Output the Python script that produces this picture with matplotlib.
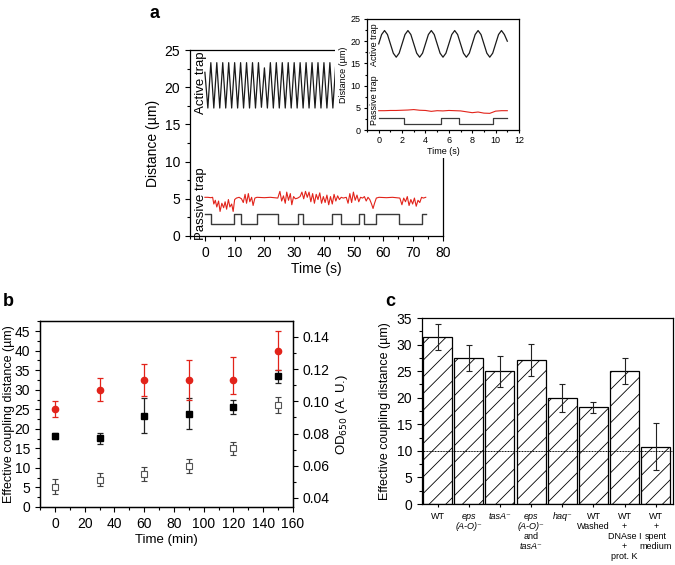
"""Trap traces, coupling distance vs time, and coupling distance per strain."""
import matplotlib
matplotlib.use('Agg')
import matplotlib.pyplot as plt
from matplotlib.ticker import MultipleLocator, FormatStrFormatter

plt.rcParams['font.family'] = ['Liberation Sans', 'DejaVu Sans']
plt.rcParams['font.size'] = 9
plt.rcParams['hatch.linewidth'] = 0.6
plt.rcParams['axes.linewidth'] = 0.9

# ---- panel a, main: 75 s run ----
active_t = [0, 1, 2, 3, 4, 5, 6, 7, 8, 9, 10, 11, 12, 13, 14, 15, 16, 17, 18, 19,
            20, 21, 22, 23, 24, 25, 26, 27, 28, 29, 30, 31, 32, 33, 34, 35, 36, 37,
            38, 39, 40, 41, 42, 43, 44, 45, 46, 47, 48, 49, 50, 51, 52, 53, 54, 55,
            56, 57, 58, 59, 60, 61, 62, 63, 64, 65, 66, 67, 68, 69, 70, 71, 72, 73,
            74, 75]
active_v = [22.0, 17.2, 23.3, 17.2, 23.3, 17.2, 23.3, 17.2, 23.3, 17.2, 23.3, 17.2,
            23.3, 17.2, 23.3, 17.2, 23.3, 17.2, 23.3, 17.3, 22.6, 17.2, 23.3, 17.2,
            23.3, 17.2, 23.3, 17.2, 23.3, 17.2, 23.3, 17.2, 23.3, 17.2, 23.3, 17.2,
            23.3, 17.2, 23.3, 17.2, 23.3, 17.2, 23.3, 17.2, 23.3, 17.2, 23.3, 17.2,
            23.3, 17.2, 23.3, 17.2, 23.3, 17.2, 23.3, 17.2, 23.3, 17.2, 23.3, 17.2,
            23.3, 17.2, 23.3, 17.2, 23.3, 17.2, 23.3, 17.2, 23.3, 17.2, 23.3, 17.2,
            23.3, 17.2, 23.3, 17.2]

red_t = [0, 1, 2, 2.6, 3.0, 3.5, 4.0, 4.6, 5.1, 5.7, 6.3, 6.8, 7.3, 7.9, 8.4, 9.0,
         9.5, 10.0, 10.6, 11.5, 12.3, 12.9, 13.5, 14.0, 14.6, 15.1, 15.7, 16.2, 16.8,
         17.5, 20, 22, 24.5, 25.2, 25.8, 26.4, 27.0, 27.5, 28.1, 28.7, 29.2, 29.8,
         30.4, 31.2, 32.0, 32.6, 33.2, 33.8, 34.4, 35.0, 35.6, 36.2, 36.8, 37.4, 38.0,
         38.6, 39.2, 39.8, 40.4, 41.0, 41.6, 42.2, 42.8, 43.4, 44.0, 44.6, 45.2, 45.8,
         46.5, 47.5, 48.1, 48.7, 49.3, 49.9, 50.5, 51.1, 51.7, 52.3, 53.0, 53.6, 54.2,
         54.8, 55.4, 56.0, 56.5, 57.0, 57.6, 58.5, 61, 63, 65.5, 66.2, 66.8, 67.4, 68.0,
         68.6, 69.2, 69.8, 70.4, 71.0, 71.6, 72.2, 72.8, 73.4, 74.2]
red_v = [5.2, 5.2, 5.15, 5.2, 4.3, 4.8, 3.9, 4.7, 3.3, 4.4, 3.8, 4.6, 3.6, 4.9, 3.9, 4.3,
         3.3, 4.9, 5.1, 5.2, 5.0, 4.5, 5.6, 4.4, 5.7, 4.6, 5.2, 4.1, 5.1,
         5.2, 5.15, 5.2, 5.1, 6.0, 4.7, 5.4, 4.4, 5.9, 4.8, 5.7, 4.2, 5.3,
         5.0, 5.1, 5.3, 5.9, 5.0, 6.0, 5.2, 5.9, 4.6, 5.7, 4.4, 5.6, 4.9,
         5.8, 4.4, 5.3, 4.5, 5.5, 4.2, 5.3, 4.3, 5.6, 4.7, 5.4, 4.9, 5.2,
         5.1, 5.2, 4.4, 5.7, 4.5, 5.9, 4.8, 5.5, 4.6, 5.2, 5.1, 5.3, 4.7,
         5.2, 4.9, 4.3, 3.7, 4.4, 5.1, 5.2, 5.15, 5.2, 5.1, 4.2, 5.1, 4.6, 5.3,
         4.1, 4.9, 4.3, 5.1, 4.0, 4.8, 4.5, 5.2, 5.1, 5.2]

step_t = [0, 2.1, 9.9, 12.0, 17.5, 24.5, 31.2, 32.8, 42.8, 45.8, 51.8, 53.6, 57.6,
          65.3, 73.0, 74.3]
step_v = [3.0, 1.6, 3.0, 1.6, 3.0, 1.6, 3.0, 1.6, 3.0, 1.6, 3.0, 1.6, 3.0, 1.6,
          3.0, 3.0]

# ---- panel a, inset: first 11 s ----
ins_t = [0, 0.25, 0.5, 0.75, 1, 1.25, 1.5, 1.75, 2, 2.25, 2.5, 2.75, 3, 3.25, 3.5,
         3.75, 4, 4.25, 4.5, 4.75, 5, 5.25, 5.5, 5.75, 6, 6.25, 6.5, 6.75, 7, 7.25,
         7.5, 7.75, 8, 8.25, 8.5, 8.75, 9, 9.25, 9.5, 9.75, 10, 10.25, 10.5, 10.75, 11]
ins_active = [19.4, 21.5, 22.4, 21.5, 19.4, 17.3, 16.4, 17.3, 19.4, 21.5, 22.4, 21.5,
              19.4, 17.3, 16.4, 17.3, 19.4, 21.5, 22.4, 21.5, 19.4, 17.3, 16.4, 17.3,
              19.4, 21.5, 22.4, 21.5, 19.4, 17.3, 16.4, 17.3, 19.4, 21.5, 22.4, 21.5,
              19.4, 17.3, 16.4, 17.3, 19.4, 21.5, 22.4, 21.5, 20.0]
ins_red_t = [0, 0.5, 1, 1.5, 2, 2.5, 3, 3.5, 4, 4.5, 5, 5.5, 6, 6.5, 7, 7.5, 8, 8.5,
             9, 9.5, 10, 10.5, 11]
ins_red_v = [4.35, 4.35, 4.4, 4.4, 4.45, 4.5, 4.6, 4.45, 4.4, 4.2, 4.35, 4.3, 4.4,
             4.35, 4.3, 4.1, 3.9, 4.05, 3.8, 3.75, 4.25, 4.35, 4.35]
ins_step_t = [0, 2.2, 5.3, 6.9, 9.8, 11.0]
ins_step_v = [2.7, 1.4, 2.7, 1.4, 2.7, 2.7]

# ---- panel b ----
b_time = [0, 30, 60, 90, 120, 150]
b_red = [25.0, 30.0, 32.5, 32.5, 32.5, 40.0]
b_red_lo = [2.0, 3.0, 4.0, 5.0, 3.7, 5.0]
b_red_hi = [2.0, 3.0, 4.0, 5.0, 6.0, 5.0]
b_black = [18.2, 17.6, 23.4, 23.9, 25.6, 33.4]
b_black_err = [0.8, 1.4, 4.5, 3.9, 1.8, 1.7]
b_od = [0.047, 0.0513, 0.055, 0.060, 0.0709, 0.0977]
b_od_err = [0.0048, 0.004, 0.0042, 0.0042, 0.0041, 0.0052]

# ---- panel c ----
# each tick label as (line text, italic) pairs
c_labels = [[('WT', False)],
            [('eps', True), ('(A-O)⁻', True)],
            [('tasA⁻', True)],
            [('eps', True), ('(A-O)⁻', True), ('and', False), ('tasA⁻', True)],
            [('haq⁻', True)],
            [('WT', False), ('Washed', False)],
            [('WT', False), ('+', False), ('DNAse I', False), ('+', False),
             ('prot. K', False)],
            [('WT', False), ('+', False), ('spent', False), ('medium', False)]]
c_vals = [31.4, 27.5, 25.0, 27.1, 20.0, 18.2, 25.0, 10.8]
c_err = [2.4, 2.5, 2.9, 3.1, 2.6, 1.0, 2.5, 4.35]

RED = '#e2231a'
W, H = 675, 565


def box(l, t, r, b):
    return [l / W, 1 - b / H, (r - l) / W, (b - t) / H]


def ticks(ax, size=9):
    ax.tick_params(which='both', direction='out', labelsize=size, width=0.8)
    ax.tick_params(which='major', length=3.5)
    ax.tick_params(which='minor', length=2)


fig = plt.figure(figsize=(6.75, 5.65), dpi=100)

# panel a
ax = fig.add_axes(box(190, 50, 443, 236))
ax.plot(active_t, active_v, color='#1a1a1a', lw=0.9)
ax.plot(red_t, red_v, color=RED, lw=0.8)
ax.step(step_t, step_v, where='post', color='#3a3a3a', lw=1.0)
ax.set_xlim(-5, 80)
ax.set_ylim(0, 25)
ax.xaxis.set_major_locator(MultipleLocator(10))
ax.xaxis.set_minor_locator(MultipleLocator(5))
ax.yaxis.set_major_locator(MultipleLocator(5))
ax.yaxis.set_minor_locator(MultipleLocator(2.5))
ticks(ax, 10)
ax.set_xlabel('Time (s)', fontsize=10, labelpad=2)
ax.set_ylabel('Distance (µm)', fontsize=10, labelpad=3)
ax.text(-1.4, 20.6, 'Active trap', rotation=90, ha='center', va='center', fontsize=9.5)
ax.text(-1.4, 4.3, 'Passive trap', rotation=90, ha='center', va='center', fontsize=9.5)

cover = fig.add_axes(box(335, 0, 535, 158))
cover.set_xticks([])
cover.set_yticks([])
for s in cover.spines.values():
    s.set_visible(False)

ins = fig.add_axes(box(367, 19, 519, 130))
ins.plot(ins_t, ins_active, color='#1a1a1a', lw=0.9)
ins.plot(ins_red_t, ins_red_v, color=RED, lw=0.8)
ins.step(ins_step_t, ins_step_v, where='post', color='#3a3a3a', lw=0.9)
ins.set_xlim(-1, 12)
ins.set_ylim(0, 25)
ins.xaxis.set_major_locator(MultipleLocator(2))
ins.xaxis.set_minor_locator(MultipleLocator(1))
ins.yaxis.set_major_locator(MultipleLocator(5))
ins.yaxis.set_minor_locator(MultipleLocator(2.5))
ticks(ins, 6.5)
ins.tick_params(which='major', length=2.5, pad=2)
ins.tick_params(which='minor', length=1.5)
ins.set_xlabel('Time (s)', fontsize=6.5, labelpad=1)
ins.set_ylabel('Distance (µm)', fontsize=6.5, labelpad=2)
ins.text(-0.4, 19.2, 'Active trap', rotation=90, ha='center', va='center', fontsize=6.5)
ins.text(-0.4, 6.8, 'Passive trap', rotation=90, ha='center', va='center', fontsize=6.5)

fig.text(150 / W, 1 - 18 / H, 'a', fontsize=13, fontweight='bold')

# panel b
axb = fig.add_axes(box(40, 321, 293, 507))
axb2 = axb.twinx()
axb2.errorbar(b_time, b_od, yerr=b_od_err, fmt='s', ms=4.5, mfc='white', mec='#555555',
              mew=0.8, ecolor='#444444', elinewidth=0.9, capsize=2, capthick=0.9)
axb.errorbar(b_time, b_black, yerr=b_black_err, fmt='s', ms=4.5, color='black',
             ecolor='#222222', elinewidth=0.9, capsize=2, capthick=0.9)
axb.errorbar(b_time, b_red, yerr=[b_red_lo, b_red_hi], fmt='o', ms=4.5, color=RED,
             ecolor=RED, elinewidth=0.9, capsize=2, capthick=0.9)
axb.set_xlim(-10, 160)
axb.set_ylim(0, 47.6)
axb2.set_ylim(0.0344, 0.1499)
axb.xaxis.set_major_locator(MultipleLocator(20))
axb.xaxis.set_minor_locator(MultipleLocator(10))
axb.yaxis.set_major_locator(MultipleLocator(5))
axb.yaxis.set_minor_locator(MultipleLocator(2.5))
axb2.yaxis.set_major_locator(MultipleLocator(0.02))
axb2.yaxis.set_minor_locator(MultipleLocator(0.01))
axb2.yaxis.set_major_formatter(FormatStrFormatter('%.2f'))
ticks(axb, 10)
ticks(axb2, 10)
axb.set_xlabel('Time (min)', fontsize=9.5, labelpad=2)
axb.set_ylabel('Effective coupling distance (µm)', fontsize=9)
axb.yaxis.set_label_coords(-0.1, 0.5)
axb2.set_ylabel('OD$_{650}$ (A. U.)', fontsize=9.5, labelpad=3)
fig.text(3 / W, 1 - 306 / H, 'b', fontsize=13, fontweight='bold')

# panel c
axc = fig.add_axes(box(422, 318, 673, 504))
xs = list(range(len(c_vals)))
axc.bar(xs, c_vals, width=0.93, color='white', edgecolor='black', hatch='//', lw=0.9,
        zorder=2)
axc.errorbar(xs, c_vals, yerr=c_err, fmt='none', ecolor='#222222', elinewidth=0.8,
             capsize=2.5, capthick=0.8, zorder=3)
axc.axhline(10, color='black', lw=0.7, ls=(0, (1, 0.6)), zorder=4)
axc.set_xlim(-0.5, 7.55)
axc.set_ylim(0, 35)
axc.yaxis.set_major_locator(MultipleLocator(5))
axc.yaxis.set_minor_locator(MultipleLocator(2.5))
axc.set_xticks(xs)
axc.set_xticklabels([''] * len(xs))
ticks(axc, 10)
axc.tick_params(axis='x', length=2)
for x, lines in zip(xs, c_labels):
    for i, (txt, it) in enumerate(lines):
        axc.annotate(txt, xy=(x, 0), xycoords=('data', 'axes fraction'),
                     xytext=(0, -6 - 7.2 * i), textcoords='offset points',
                     ha='center', va='top', fontsize=6.5,
                     fontstyle='italic' if it else 'normal')
axc.set_ylabel('Effective coupling distance (µm)', fontsize=9, labelpad=4)
fig.text(385 / W, 1 - 306 / H, 'c', fontsize=13, fontweight='bold')

fig.savefig('out.png', dpi=100)
